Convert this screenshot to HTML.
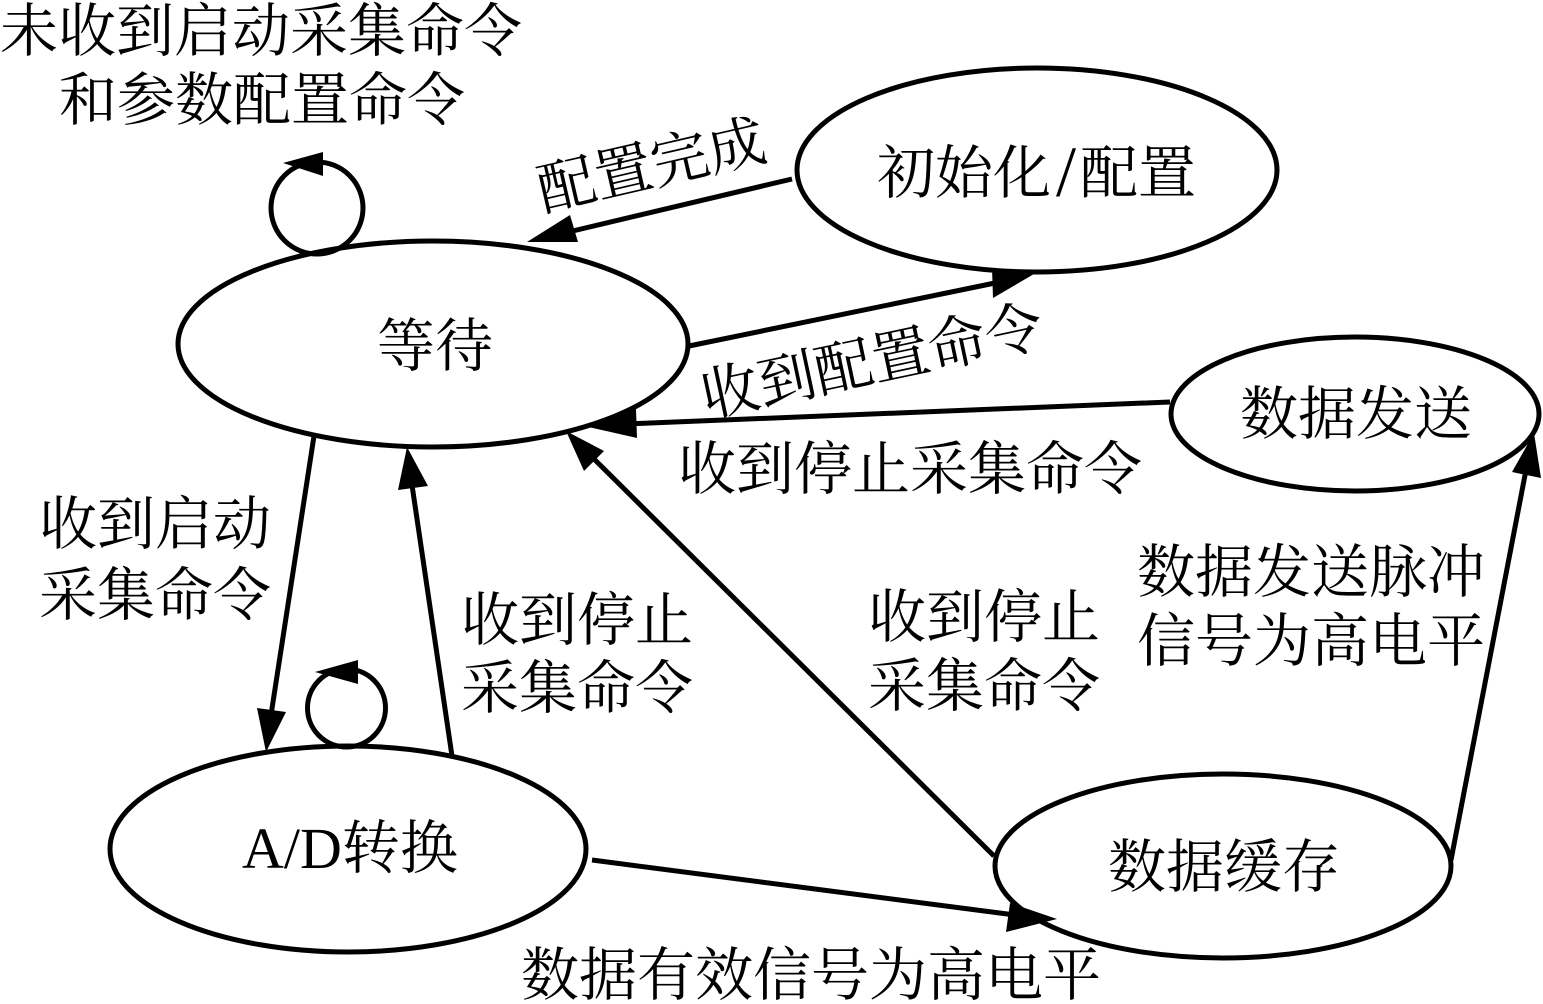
<!DOCTYPE html>
<html><head><meta charset="utf-8"><style>html,body{margin:0;padding:0;background:#fff}svg{display:block}text{font-family:"Liberation Serif","Noto Serif CJK SC",serif;font-size:58px;fill:#000}</style></head><body>
<svg width="1543" height="1004" viewBox="0 0 1543 1004">
<g fill="none" stroke="#000" stroke-width="5">
<ellipse cx="1037" cy="170" rx="240" ry="102"/>
<ellipse cx="433" cy="344" rx="255" ry="103"/>
<ellipse cx="1355" cy="414" rx="184" ry="77"/>
<ellipse cx="348" cy="849" rx="238" ry="103"/>
<ellipse cx="1223" cy="866" rx="228" ry="92"/>
<circle cx="317" cy="208" r="46"/>
<circle cx="346.500" cy="708" r="39"/>
<line x1="792" y1="179" x2="560" y2="234"/>
<line x1="689" y1="346" x2="995" y2="283"/>
<line x1="1170" y1="402" x2="625" y2="424"/>
<line x1="314" y1="436" x2="271" y2="715"/>
<line x1="452" y1="756" x2="412" y2="485"/>
<line x1="994" y1="856" x2="590" y2="455"/>
<line x1="592" y1="860" x2="1015" y2="915"/>
<line x1="1451" y1="860" x2="1526" y2="470"/>
</g>
<g fill="#000">
<polygon points="527,242 570,215 578,242"/>
<polygon points="1034,274 992,268 993,298"/>
<polygon points="584,426 636,409 637,438"/>
<polygon points="266,752 257,708 286,712"/>
<polygon points="407,447 398,490 428,486"/>
<polygon points="566,431 604,451 584,471"/>
<polygon points="1057,919 1010,903 1006,932"/>
<polygon points="1534,433 1512,472 1541,478"/>
<polygon points="283,163 323,152 323,176"/>
<polygon points="315,672 358,660 358,684"/>
</g>
<text x="0" y="51">未收到启动采集命令</text>
<text x="59" y="120">和参数配置命令</text>
<text x="877" y="193">初始化</text>
<text x="1056" y="196" style="font-size:72px">/</text>
<text x="1080" y="193">配置</text>
<text x="377" y="366">等待</text>
<text x="1240" y="434">数据发送</text>
<text x="242" y="868">A/D转换</text>
<text x="1108" y="887">数据缓存</text>
<text transform="translate(543 211) rotate(-13)">配置完成</text>
<text transform="translate(706 417) rotate(-12)">收到配置命令</text>
<text x="678" y="489">收到停止采集命令</text>
<text x="39" y="544">收到启动</text>
<text x="39" y="615">采集命令</text>
<text x="461" y="640">收到停止</text>
<text x="461" y="708">采集命令</text>
<text x="868" y="637">收到停止</text>
<text x="868" y="706">采集命令</text>
<text x="1137" y="592">数据发送脉冲</text>
<text x="1137" y="661">信号为高电平</text>
<text x="521" y="995">数据有效信号为高电平</text>
</svg>
</body></html>
